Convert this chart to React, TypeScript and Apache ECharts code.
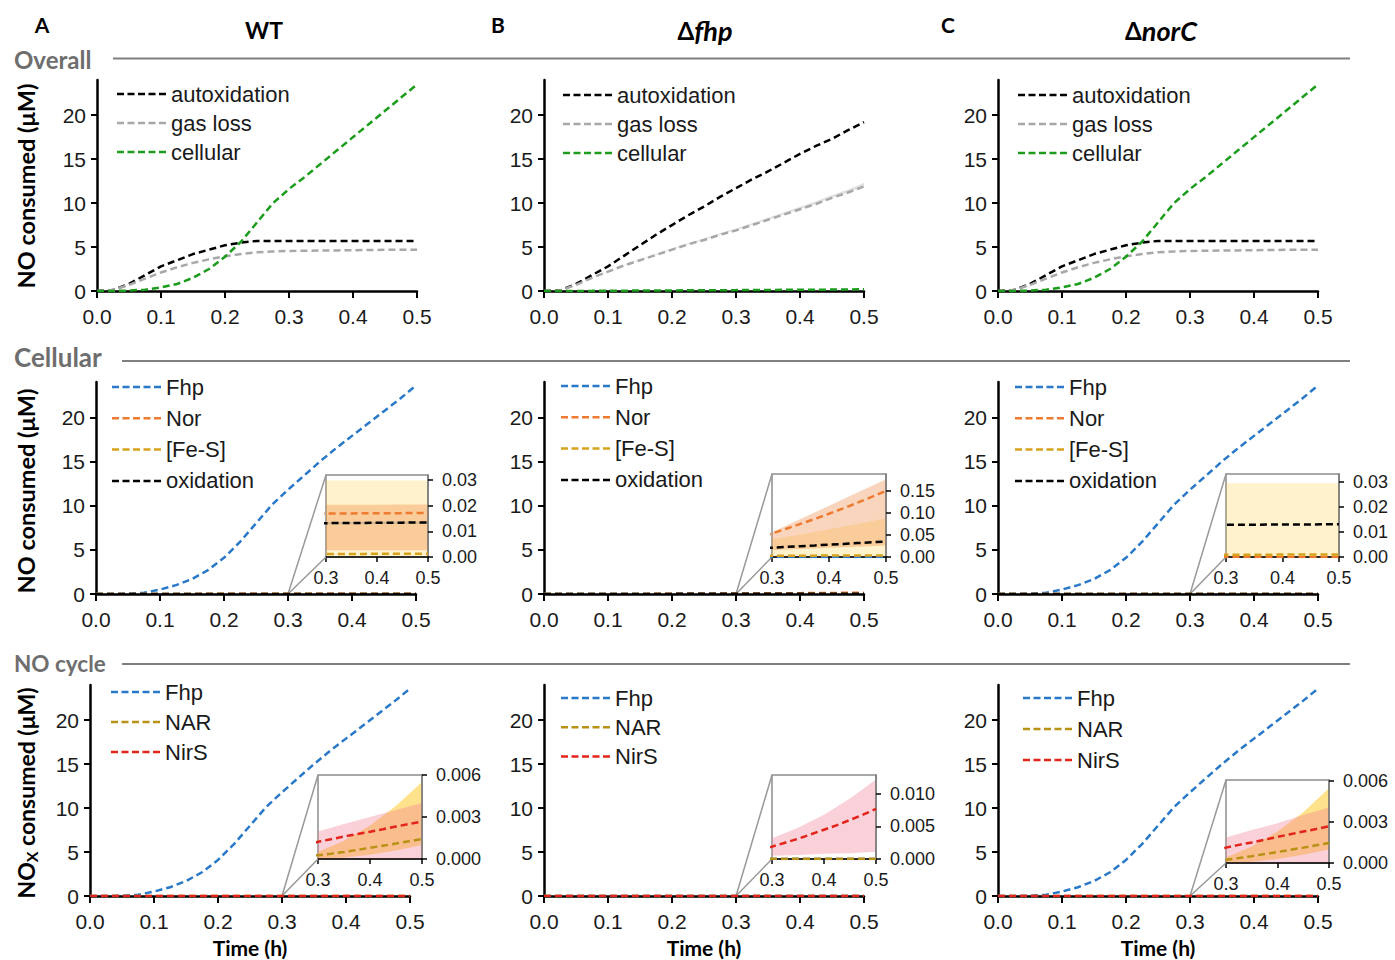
import React, { useEffect, useRef } from "react";
import * as echarts from "echarts";

// ---------- time grids (h) ----------
const T = [0, 0.025, 0.05, 0.075, 0.1, 0.125, 0.15, 0.175, 0.2, 0.225, 0.25, 0.275, 0.3, 0.325, 0.35, 0.375, 0.4, 0.425, 0.45, 0.475, 0.5];
const TI = [0.3, 0.35, 0.4, 0.45, 0.5];
const X_TICKS = [0, 0.1, 0.2, 0.3, 0.4, 0.5];
const Y_TICKS = [0, 5, 10, 15, 20];
const INSET_X_TICKS = [0.3, 0.4, 0.5];

// ---------- Overall (µM) ----------
const WT_AUTOX = [0, 0.1, 0.8, 1.8, 2.8, 3.5, 4.2, 4.7, 5.2, 5.5, 5.7, 5.7, 5.7, 5.7, 5.7, 5.7, 5.7, 5.7, 5.7, 5.7, 5.7];
const WT_GAS = [0, 0.1, 0.7, 1.4, 2.1, 2.7, 3.2, 3.6, 3.95, 4.2, 4.4, 4.5, 4.55, 4.58, 4.6, 4.62, 4.64, 4.66, 4.68, 4.69, 4.7];
const WT_CELL = [0, 0, 0.05, 0.15, 0.4, 0.8, 1.5, 2.5, 3.9, 5.6, 7.8, 10.0, 11.6, 13.0, 14.5, 16.0, 17.5, 19.0, 20.5, 22.0, 23.5];

const FHP_AUTOX = [0, 0.05, 0.8, 1.8, 2.8, 4.0, 5.2, 6.4, 7.5, 8.6, 9.6, 10.7, 11.7, 12.7, 13.6, 14.6, 15.6, 16.5, 17.3, 18.3, 19.2];
const FHP_GAS = [0, 0.05, 0.7, 1.5, 2.2, 2.9, 3.5, 4.1, 4.7, 5.3, 5.8, 6.4, 6.9, 7.5, 8.1, 8.7, 9.3, 9.9, 10.6, 11.2, 11.9];
const FHP_GAS_HI = [0, 0.06, 0.72, 1.53, 2.25, 2.96, 3.58, 4.2, 4.82, 5.44, 5.96, 6.58, 7.1, 7.72, 8.34, 8.96, 9.58, 10.2, 10.92, 11.55, 12.3];
const FHP_CELL = [0, 0, 0.01, 0.015, 0.03, 0.04, 0.05, 0.055, 0.065, 0.075, 0.085, 0.095, 0.1, 0.11, 0.12, 0.13, 0.14, 0.15, 0.16, 0.175, 0.19];

const NORC_AUTOX = [0, 0.1, 0.8, 1.8, 2.8, 3.5, 4.2, 4.7, 5.2, 5.5, 5.7, 5.7, 5.7, 5.7, 5.7, 5.7, 5.7, 5.7, 5.7, 5.7, 5.7];
const NORC_GAS = [0, 0.1, 0.7, 1.4, 2.1, 2.7, 3.2, 3.6, 3.95, 4.2, 4.4, 4.5, 4.55, 4.58, 4.6, 4.62, 4.64, 4.66, 4.68, 4.69, 4.7];
const NORC_CELL = [0, 0, 0.05, 0.15, 0.4, 0.8, 1.5, 2.5, 3.9, 5.6, 7.8, 10.0, 11.6, 13.0, 14.5, 16.0, 17.5, 19.0, 20.5, 22.0, 23.5];

// ---------- Cellular (µM) ----------
const WT_FHP = [0, 0, 0.02, 0.15, 0.5, 1.0, 1.7, 2.7, 4.1, 5.9, 8.0, 10.1, 11.8, 13.4, 15.0, 16.5, 17.9, 19.3, 20.7, 22.1, 23.6];
const WT_NOR = [0, 0.0005, 0.002, 0.005, 0.008, 0.011, 0.013, 0.015, 0.016, 0.0165, 0.0168, 0.0169, 0.017, 0.017, 0.017, 0.0171, 0.0171, 0.0171, 0.0171, 0.0172, 0.0172];
const WT_FES = [0, 0.0001, 0.0003, 0.0006, 0.0008, 0.001, 0.0011, 0.0012, 0.0012, 0.0012, 0.0012, 0.0012, 0.0012, 0.0012, 0.0012, 0.0012, 0.0013, 0.0013, 0.0013, 0.0013, 0.0013];
const WT_OXI = [0, 0.0004, 0.0015, 0.004, 0.007, 0.009, 0.011, 0.012, 0.0128, 0.0131, 0.0132, 0.0132, 0.0132, 0.0133, 0.0133, 0.0133, 0.0134, 0.0134, 0.0134, 0.0135, 0.0135];

const FHPD_FHP = [0, 0, 0, 0, 0, 0, 0, 0, 0, 0, 0, 0, 0, 0, 0, 0, 0, 0, 0, 0, 0];
const FHPD_NOR = [0, 0.0002, 0.001, 0.0025, 0.005, 0.008, 0.012, 0.017, 0.024, 0.031, 0.038, 0.045, 0.053, 0.064, 0.075, 0.086, 0.098, 0.11, 0.123, 0.136, 0.15];
const FHPD_FES = [0, 0.0003, 0.0008, 0.0013, 0.0017, 0.002, 0.0022, 0.0024, 0.0026, 0.0027, 0.0028, 0.0029, 0.003, 0.003, 0.0031, 0.0031, 0.0032, 0.0032, 0.0033, 0.0033, 0.0034];
const FHPD_OXI = [0, 0.0005, 0.002, 0.004, 0.006, 0.008, 0.01, 0.012, 0.014, 0.016, 0.018, 0.0195, 0.021, 0.0228, 0.0245, 0.0262, 0.028, 0.0297, 0.0315, 0.0333, 0.035];

const NORC_FHP = [0, 0, 0.02, 0.15, 0.5, 1.0, 1.7, 2.7, 4.1, 5.9, 8.0, 10.1, 11.8, 13.4, 15.0, 16.5, 17.9, 19.3, 20.7, 22.1, 23.6];
const NORC_NOR = [0, 0, 0, 0, 0, 0, 0, 0, 0, 0, 0, 0, 0, 0, 0, 0, 0, 0, 0, 0, 0];
const NORC_FES = [0, 0.0001, 0.0003, 0.0005, 0.0007, 0.0008, 0.0009, 0.0009, 0.0009, 0.0009, 0.0009, 0.0009, 0.0009, 0.0009, 0.0009, 0.0009, 0.001, 0.001, 0.001, 0.001, 0.001];
const NORC_OXI = [0, 0.0004, 0.0015, 0.004, 0.007, 0.009, 0.011, 0.012, 0.0125, 0.0127, 0.0128, 0.0128, 0.0128, 0.0128, 0.0128, 0.0129, 0.0129, 0.0129, 0.0129, 0.013, 0.013];

// ---------- NO cycle (µM) ----------
const WT_NAR = [0, 0, 0, 0.00001, 0.00002, 0.00003, 0.00005, 0.00007, 0.0001, 0.00013, 0.00017, 0.00022, 0.00027, 0.00038, 0.0005, 0.00065, 0.0008, 0.00095, 0.0011, 0.00127, 0.00143];
const WT_NIRS = [0, 0, 0.00001, 0.00003, 0.00006, 0.0001, 0.00016, 0.00024, 0.00035, 0.0005, 0.00068, 0.00095, 0.00123, 0.00141, 0.0016, 0.00178, 0.00195, 0.00213, 0.00232, 0.0025, 0.00268];
const FHPD_NAR = [0, 0, 0, 0, 0, 0.00001, 0.00001, 0.00001, 0.00002, 0.00002, 0.00002, 0.00003, 0.00003, 0.00003, 0.00003, 0.00004, 0.00004, 0.00004, 0.00005, 0.00005, 0.00005];
const FHPD_NIRS = [0, 0, 0.00002, 0.00005, 0.0001, 0.00017, 0.00026, 0.00038, 0.00053, 0.0007, 0.0009, 0.0013, 0.0019, 0.0025, 0.0031, 0.0038, 0.0045, 0.0052, 0.006, 0.0068, 0.0077];
const NORC_NAR = [0, 0, 0, 0.00001, 0.00002, 0.00003, 0.00005, 0.00007, 0.0001, 0.00013, 0.00016, 0.0002, 0.00024, 0.00036, 0.0005, 0.00065, 0.0008, 0.00096, 0.00112, 0.00129, 0.00146];
const NORC_NIRS = [0, 0, 0.00001, 0.00003, 0.00006, 0.0001, 0.00015, 0.00022, 0.00032, 0.00045, 0.0006, 0.00085, 0.00112, 0.00132, 0.0015, 0.0017, 0.0019, 0.0021, 0.00229, 0.00248, 0.00268];

// ---------- inset confidence bands (at TI) ----------
const WT_FES_LO = [0, 0, 0, 0, 0];
const WT_FES_HI = [0.0299, 0.0299, 0.0299, 0.0299, 0.0299];
const WT_NOR_LO = [0.0026, 0.0026, 0.0026, 0.0026, 0.0026];
const WT_NOR_HI = [0.0204, 0.0204, 0.0204, 0.0205, 0.0205];
const WT_OXI_LO = [0.0128, 0.0128, 0.0129, 0.0129, 0.013];
const WT_OXI_HI = [0.0137, 0.0137, 0.0138, 0.0139, 0.0139];

const FHPD_FES_LO = [0, 0, 0, 0, 0];
const FHPD_FES_HI = [0.04, 0.051, 0.063, 0.075, 0.088];
const FHPD_NOR_LO = [0.016, 0.018, 0.021, 0.023, 0.026];
const FHPD_NOR_HI = [0.056, 0.086, 0.116, 0.146, 0.176];

const NORC_FES_LO = [0, 0, 0, 0, 0];
const NORC_FES_HI = [0.0293, 0.0293, 0.0293, 0.0293, 0.0293];

const WT_NAR_LO = [0, 0.0001, 0.0003, 0.0006, 0.001];
const WT_NAR_HI = [0.0005, 0.0013, 0.0024, 0.0038, 0.0055];
const WT_NIRS_LO = [0, 0, 0, 0, 0];
const WT_NIRS_HI = [0.00196, 0.0025, 0.003, 0.0035, 0.004];

const FHPD_NIRS_LO = [0.0005, 0.0006, 0.0008, 0.0009, 0.0011];
const FHPD_NIRS_HI = [0.0032, 0.0048, 0.0068, 0.0093, 0.0122];

const NORC_NAR_LO = [0, 0.0001, 0.0003, 0.0006, 0.00098];
const NORC_NAR_HI = [0.0004, 0.0012, 0.0023, 0.0037, 0.00544];
const NORC_NIRS_LO = [0, 0, 0, 0, 0];
const NORC_NIRS_HI = [0.00185, 0.0024, 0.0029, 0.0035, 0.00405];

// ---------- styles ----------
const FONT = "'Liberation Sans', Arial, sans-serif";
const HFONT = "Lato, 'Open Sans', sans-serif";
const C_BLACK = "#000000";
const C_GRAY = "#a8a8a8";
const C_GREEN = "#1c9c1c";
const C_BLUE = "#2a78c8";
const C_ORANGE = "#ee7b30";
const C_GOLD = "#d8a21c";
const C_NAR = "#b89214";
const C_RED = "#e3241b";
const B_FES = "rgba(255,192,0,0.2)";
const B_NOR = "rgba(237,125,49,0.32)";
const B_OXI = "rgba(120,120,120,0.25)";
const B_NAR = "rgba(255,190,0,0.45)";
const B_NIRS = "rgba(240,120,145,0.35)";
const B_GAS = "rgba(190,190,190,0.45)";
const DASH = [7, 4];
const DASH_ICON = "path://M0,0H7V2.5H0Z M10.5,0H17.5V2.5H10.5Z M21,0H28V2.5H21Z M31.5,0H38.5V2.5H31.5Z M42,0H49V2.5H42Z";

type Line = [string, number[], string];

const PANELS: { left: number; top: number; h: number; lg: { left: number; top: number; gap: number }; lines: Line[] }[] = [
  { left: 97, top: 80, h: 211, lg: { left: 117, top: 83, gap: 7 }, lines: [["autoxidation", WT_AUTOX, C_BLACK], ["gas loss", WT_GAS, C_GRAY], ["cellular", WT_CELL, C_GREEN]] },
  { left: 544, top: 80, h: 211, lg: { left: 563, top: 84, gap: 7 }, lines: [["autoxidation", FHP_AUTOX, C_BLACK], ["gas loss", FHP_GAS, C_GRAY], ["cellular", FHP_CELL, C_GREEN]] },
  { left: 998, top: 80, h: 211, lg: { left: 1018, top: 84, gap: 7 }, lines: [["autoxidation", NORC_AUTOX, C_BLACK], ["gas loss", NORC_GAS, C_GRAY], ["cellular", NORC_CELL, C_GREEN]] },
  { left: 96, top: 382, h: 212, lg: { left: 112, top: 376, gap: 9.3 }, lines: [["Fhp", WT_FHP, C_BLUE], ["Nor", WT_NOR, C_ORANGE], ["[Fe-S]", WT_FES, C_GOLD], ["oxidation", WT_OXI, C_BLACK]] },
  { left: 544, top: 382, h: 212, lg: { left: 561, top: 375, gap: 9.3 }, lines: [["Fhp", FHPD_FHP, C_BLUE], ["Nor", FHPD_NOR, C_ORANGE], ["[Fe-S]", FHPD_FES, C_GOLD], ["oxidation", FHPD_OXI, C_BLACK]] },
  { left: 998, top: 382, h: 212, lg: { left: 1015, top: 376, gap: 9.3 }, lines: [["Fhp", NORC_FHP, C_BLUE], ["Nor", NORC_NOR, C_ORANGE], ["[Fe-S]", NORC_FES, C_GOLD], ["oxidation", NORC_OXI, C_BLACK]] },
  { left: 90, top: 685, h: 211, lg: { left: 111, top: 681, gap: 8 }, lines: [["Fhp", WT_FHP, C_BLUE], ["NAR", WT_NAR, C_NAR], ["NirS", WT_NIRS, C_RED]] },
  { left: 544, top: 685, h: 211, lg: { left: 561, top: 687, gap: 7.2 }, lines: [["Fhp", FHPD_FHP, C_BLUE], ["NAR", FHPD_NAR, C_NAR], ["NirS", FHPD_NIRS, C_RED]] },
  { left: 998, top: 685, h: 211, lg: { left: 1023, top: 687, gap: 9 }, lines: [["Fhp", NORC_FHP, C_BLUE], ["NAR", NORC_NAR, C_NAR], ["NirS", NORC_NIRS, C_RED]] },
];

type Band = [number[], number[], string];
const INSETS: { panel: number; left: number; top: number; w: number; h: number; max: number; ticks: number[]; digits: number; bands: Band[] }[] = [
  { panel: 3, left: 326, top: 475, w: 102, h: 82, max: 0.032, ticks: [0, 0.01, 0.02, 0.03], digits: 2, bands: [[WT_FES_LO, WT_FES_HI, B_FES], [WT_NOR_LO, WT_NOR_HI, B_NOR], [WT_OXI_LO, WT_OXI_HI, B_OXI]] },
  { panel: 4, left: 772, top: 474, w: 114, h: 83, max: 0.188, ticks: [0, 0.05, 0.1, 0.15], digits: 2, bands: [[FHPD_FES_LO, FHPD_FES_HI, B_FES], [FHPD_NOR_LO, FHPD_NOR_HI, B_NOR]] },
  { panel: 5, left: 1226, top: 474, w: 113, h: 83, max: 0.033, ticks: [0, 0.01, 0.02, 0.03], digits: 2, bands: [[NORC_FES_LO, NORC_FES_HI, B_FES]] },
  { panel: 6, left: 318, top: 775, w: 104, h: 84, max: 0.006, ticks: [0, 0.003, 0.006], digits: 3, bands: [[WT_NAR_LO, WT_NAR_HI, B_NAR], [WT_NIRS_LO, WT_NIRS_HI, B_NIRS]] },
  { panel: 7, left: 772, top: 775, w: 104, h: 84, max: 0.0129, ticks: [0, 0.005, 0.01], digits: 3, bands: [[FHPD_NIRS_LO, FHPD_NIRS_HI, B_NIRS]] },
  { panel: 8, left: 1226, top: 780, w: 103, h: 83, max: 0.00605, ticks: [0, 0.003, 0.006], digits: 3, bands: [[NORC_NAR_LO, NORC_NAR_HI, B_NAR], [NORC_NIRS_LO, NORC_NIRS_HI, B_NIRS]] },
];

function lineSeries(name: string, vals: number[], color: string, gi: number) {
  return {
    type: "line", name, xAxisIndex: gi, yAxisIndex: gi,
    data: T.map((t, i) => [t, vals[i]]),
    symbol: "none", showSymbol: false, silent: true, clip: true, z: 5,
    lineStyle: { color, width: 2.5, type: DASH },
    itemStyle: { color },
    emphasis: { disabled: true },
  };
}

function bandSeries(xs: number[], lo: number[], hi: number[], color: string, gi: number) {
  return {
    type: "custom", xAxisIndex: gi, yAxisIndex: gi, silent: true, z: 1, clip: true,
    data: [[xs[0], lo[0]]],
    renderItem: (_params: any, api: any) => {
      const top = xs.map((t, j) => api.coord([t, hi[j]]));
      const bot = xs.map((t, j) => api.coord([t, lo[j]])).reverse();
      return { type: "polygon", shape: { points: top.concat(bot) }, style: { fill: color, stroke: "none" } };
    },
  };
}

function buildOption() {
  const grid: any[] = [];
  const xAxis: any[] = [];
  const yAxis: any[] = [];
  const series: any[] = [];
  const legend: any[] = [];
  const lbl = { color: "#1a1a1a", fontFamily: FONT };

  PANELS.forEach((p, i) => {
    grid.push({ left: p.left, top: p.top, width: 320, height: p.h, show: false, containLabel: false, outerBoundsMode: "none" });
    xAxis.push({
      gridIndex: i, type: "value", min: 0, max: 0.5, interval: 0.1, z: 3,
      axisLine: { show: true, onZero: false, lineStyle: { color: "#000", width: 2.5 } },
      axisTick: { show: true, length: 7, customValues: X_TICKS, lineStyle: { color: "#000", width: 2 } },
      axisLabel: { ...lbl, fontSize: 21, margin: 15, customValues: X_TICKS, formatter: (v: number) => v.toFixed(1) },
      splitLine: { show: false },
    });
    yAxis.push({
      gridIndex: i, type: "value", min: 0, max: 24, interval: 5, z: 3,
      axisLine: { show: true, onZero: false, lineStyle: { color: "#000", width: 2.5 } },
      axisTick: { show: true, length: 6, customValues: Y_TICKS, lineStyle: { color: "#000", width: 2 } },
      axisLabel: { ...lbl, fontSize: 21, margin: 11, customValues: Y_TICKS, formatter: (v: number) => v.toFixed(0) },
      splitLine: { show: false },
    });
    if (i === 1) series.push(bandSeries(T, FHP_GAS, FHP_GAS_HI, B_GAS, i));
    p.lines.forEach(([name, vals, color]) => series.push(lineSeries(name, vals, color, i)));
    legend.push({
      data: p.lines.map((l) => l[0]), orient: "vertical", left: p.lg.left, top: p.lg.top, itemGap: p.lg.gap,
      itemWidth: 49, itemHeight: 2.5, icon: DASH_ICON, padding: 0, selectedMode: false,
      itemStyle: { borderWidth: 0 },
      textStyle: { fontSize: 22, color: "#1a1a1a", fontFamily: FONT, lineHeight: 22 },
    });
  });

  INSETS.forEach((ins, k) => {
    const gi = PANELS.length + k;
    grid.push({ left: ins.left, top: ins.top, width: ins.w, height: ins.h, show: true, borderColor: "#8c8c8c", borderWidth: 1.5, backgroundColor: "rgba(0,0,0,0)", containLabel: false, outerBoundsMode: "none" });
    xAxis.push({
      gridIndex: gi, type: "value", min: 0.3, max: 0.5, interval: 0.1, z: 3,
      axisLine: { show: true, onZero: false, lineStyle: { color: "#000", width: 1.5 } },
      axisTick: { show: true, length: 5, customValues: INSET_X_TICKS, lineStyle: { color: "#000", width: 1.5 } },
      axisLabel: { ...lbl, fontSize: 18, margin: 12, customValues: INSET_X_TICKS, formatter: (v: number) => v.toFixed(1) },
      splitLine: { show: false },
    });
    yAxis.push({
      gridIndex: gi, type: "value", position: "right", min: 0, max: ins.max, z: 3,
      axisLine: { show: true, onZero: false, lineStyle: { color: "#7a7a7a", width: 1.5 } },
      axisTick: { show: true, length: 5, customValues: ins.ticks, lineStyle: { color: "#000", width: 1.5 } },
      axisLabel: { ...lbl, fontSize: 18, margin: 14, customValues: ins.ticks, formatter: (v: number) => v.toFixed(ins.digits) },
      splitLine: { show: false },
    });
    ins.bands.forEach(([lo, hi, color]) => series.push(bandSeries(TI, lo, hi, color, gi)));
    PANELS[ins.panel].lines.forEach(([name, vals, color]) => series.push(lineSeries(name, vals, color, gi)));
  });

  return { animation: false, backgroundColor: "#ffffff", textStyle: { fontFamily: FONT }, grid, xAxis, yAxis, series, legend };
}

function txt(text: string, x: number, y: number, size: number, extra: any = {}, rot = 0) {
  return {
    type: "text", x, y, rotation: rot, z: 10,
    style: { text, fontSize: size, fontWeight: "bold", fontFamily: HFONT, fill: "#000", align: "center", verticalAlign: "middle", textAlign: "center", textVerticalAlign: "middle", ...extra },
  };
}
function seg(x1: number, y1: number, x2: number, y2: number, stroke: string, w: number) {
  return { type: "line", z: 4, shape: { x1, y1, x2, y2 }, style: { stroke, lineWidth: w } };
}

function buildGraphic(chart: any) {
  const g: any[] = [];
  const HEAD = "#6e6e6e";
  g.push(txt("A", 42, 24, 21), txt("B", 498, 24, 21), txt("C", 948, 24, 21));
  g.push(txt("WT", 264, 30, 23));
  const rich = { a: { fontSize: 24, fontWeight: "bold", fontFamily: HFONT, fill: "#000" }, b: { fontSize: 27, fontWeight: "bold", fontStyle: "italic", fontFamily: HFONT, fill: "#000" } };
  g.push(txt("{a|Δ}{b|fhp}", 705, 30, 24, { rich }));
  g.push(txt("{a|Δ}{b|norC}", 1161, 30, 24, { rich }));
  g.push(txt("Overall", 14, 59, 24, { fill: HEAD, align: "left", textAlign: "left" }));
  g.push(seg(113, 58.5, 1350, 58.5, "#808080", 2));
  g.push(txt("Cellular", 14, 357, 26, { fill: HEAD, align: "left", textAlign: "left" }));
  g.push(seg(122, 361, 1350, 361, "#808080", 2));
  g.push(txt("NO cycle", 14, 663, 22.5, { fill: HEAD, align: "left", textAlign: "left" }));
  g.push(seg(122, 664, 1350, 664, "#808080", 2));
  g.push(txt("NO consumed (μM)", 26, 186, 23.5, {}, Math.PI / 2));
  g.push(txt("NO consumed (μM)", 26, 491, 23.5, {}, Math.PI / 2));
  const sub = { n: { fontSize: 23, fontWeight: "bold", fontFamily: HFONT, fill: "#000", lineHeight: 27, verticalAlign: "middle" }, s: { fontSize: 16, fontWeight: "bold", fontFamily: HFONT, fill: "#000", lineHeight: 27, verticalAlign: "bottom" } };
  g.push(txt("{n|NO}{s|X}{n| consumed (μM)}", 26, 793, 23, { rich: sub }, Math.PI / 2));
  g.push(txt("Time (h)", 250, 947, 21), txt("Time (h)", 704, 947, 21), txt("Time (h)", 1158, 947, 21));
  INSETS.forEach((ins, k) => {
    const gi = PANELS.length + k;
    const p0 = chart.convertToPixel({ gridIndex: ins.panel }, [0.3, 0]);
    const pb = chart.convertToPixel({ gridIndex: gi }, [0.3, 0]);
    const pt = chart.convertToPixel({ gridIndex: gi }, [0.3, ins.max]);
    if (p0 && pb && pt) {
      g.push(seg(p0[0], p0[1], pb[0], pb[1], "#999999", 1.5));
      g.push(seg(p0[0], p0[1], pt[0], pt[1], "#999999", 1.5));
    }
  });
  return g;
}

export default function App() {
  const ref = useRef<HTMLDivElement>(null);
  useEffect(() => {
    const el = ref.current;
    if (!el) return;
    const chart = echarts.init(el, null, { renderer: "svg" });
    chart.setOption(buildOption() as any);
    chart.setOption({ graphic: buildGraphic(chart) } as any);
    return () => chart.dispose();
  }, []);
  return <div ref={ref} style={{ position: "absolute", left: 0, top: 0, width: 1395, height: 960, background: "#fff" }} />;
}
